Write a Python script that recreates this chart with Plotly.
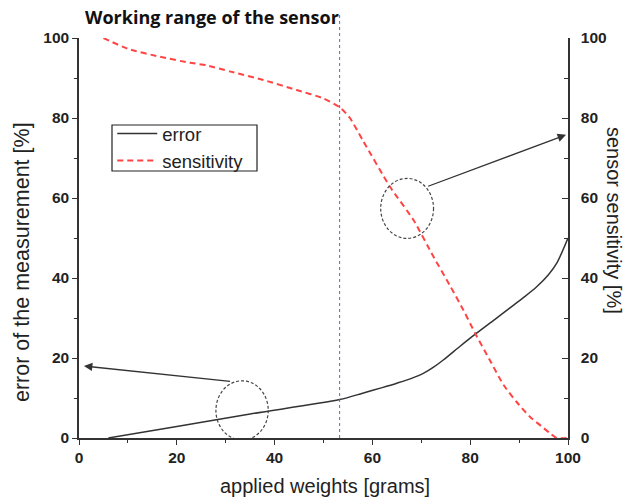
import plotly.graph_objects as go

# data
err_x = [6, 20, 35, 53.3, 58, 62, 65, 68, 70.5, 72.5, 74.5, 78, 81.3, 85, 88, 91, 93.6, 96, 97.7, 100]
err_y = [0, 2.9, 6, 9.6, 11.2, 12.6, 13.7, 14.9, 16.2, 17.7, 19.5, 23, 26.2, 29.6, 32.4, 35.2, 37.8, 40.8, 43.7, 50]

sens_x = [5, 10, 16.6, 22.7, 26, 31, 37.7, 44.5, 50, 53.4, 55.4, 58, 63.6, 68.4, 72.5, 76, 78.6, 81, 84, 86.8, 89.5, 92.2, 94.5, 96.3, 97.7, 100]
sens_y = [100, 97.3, 95.3, 93.8, 93.2, 91.6, 89.5, 87, 84.9, 82.6, 80, 74.5, 62.8, 54.5, 45.3, 37.8, 32, 26.2, 19.5, 13.3, 9, 5.3, 3, 1.2, 0, 0]

working_limit = 53.3
tick_vals = [0, 20, 40, 60, 80, 100]
tick_text = ["0", "20", "40", "60", "80", "100"]

fig = go.Figure()
fig.add_trace(go.Scatter(x=err_x, y=err_y, mode="lines", name="error",
                         line=dict(color="#333333", width=1.5, shape="spline", smoothing=0.8)))
fig.add_trace(go.Scatter(x=sens_x, y=sens_y, mode="lines", name="sensitivity", yaxis="y2",
                         line=dict(color="#ff4444", width=2, dash="6px,4px", shape="spline", smoothing=0.6)))

tickfont = dict(family="Liberation Sans, Arial", size=15.5, color="#222", weight="bold")
fig.update_layout(
    width=633, height=498,
    margin=dict(l=79, r=65, t=38, b=60),
    paper_bgcolor="white", plot_bgcolor="white",
    showlegend=True,
    legend=dict(x=0.068, y=(438 - 115) / 400, xanchor="left", yanchor="top",
                borderwidth=0, bgcolor="rgba(0,0,0,0)",
                font=dict(family="Liberation Sans, Arial", size=18.5, color="#222"),
                tracegroupgap=0, itemwidth=40),
    xaxis=dict(range=[0, 100], tickvals=tick_vals, ticktext=tick_text,
               showline=True, linecolor="#333", linewidth=1.5, mirror=False,
               ticks="outside", ticklen=5, tickcolor="#333", tickwidth=1.2,
               minor=dict(tickvals=[10, 30, 50, 70, 90], ticks="outside", ticklen=3, tickcolor="#333"),
               showgrid=False, zeroline=False, tickfont=tickfont),
    yaxis=dict(range=[0, 100], tickvals=tick_vals, ticktext=tick_text,
               showline=True, linecolor="#333", linewidth=1.5,
               ticks="outside", ticklen=5, tickcolor="#333", tickwidth=1.2,
               minor=dict(tickvals=[10, 30, 50, 70, 90], ticks="outside", ticklen=3, tickcolor="#333"),
               showgrid=False, zeroline=False, tickfont=tickfont),
    yaxis2=dict(range=[0, 100], tickvals=tick_vals, ticktext=tick_text, overlaying="y", side="right",
                showline=True, linecolor="#333", linewidth=1.5,
                ticks="inside", ticklen=6, tickcolor="#333", tickwidth=1.2, ticklabelstandoff=8,
                minor=dict(tickvals=[10, 30, 50, 70, 90], ticks="inside", ticklen=4, tickcolor="#333"),
                showgrid=False, zeroline=False, tickfont=tickfont),
)

# legend frame
fig.add_shape(type="rect", xref="paper", yref="paper",
              x0=(112 - 79) / 489, x1=(257 - 79) / 489, y0=(438 - 171) / 400, y1=(438 - 125) / 400,
              line=dict(color="#222", width=1.2), fillcolor="rgba(0,0,0,0)")

# working range vertical line
fig.add_shape(type="line", xref="x", yref="paper", x0=working_limit, x1=working_limit, y0=0, y1=1.058,
              line=dict(color="#4a72c0", width=1, dash="dot"))

# ellipses
fig.add_shape(type="circle", xref="x", yref="y", x0=61.7, x1=72.5, y0=49.9, y1=64.9,
              line=dict(color="#444", width=1.2, dash="3px,2px"))
fig.add_shape(type="circle", xref="x", yref="y", x0=28.0, x1=38.7, y0=-0.5, y1=14.3,
              line=dict(color="#444", width=1.2, dash="3px,2px"))

# arrows
fig.add_annotation(x=99.6, y=75.8, ax=71.1, ay=62.8, xref="x", yref="y", axref="x", ayref="y",
                   showarrow=True, arrowhead=2, arrowsize=1.3, arrowwidth=1.3, arrowcolor="#333", text="")
fig.add_annotation(x=1.0, y=18, ax=31.2, ay=14.1, xref="x", yref="y", axref="x", ayref="y",
                   showarrow=True, arrowhead=2, arrowsize=1.3, arrowwidth=1.3, arrowcolor="#333", text="")

# titles
fig.add_annotation(text="<b>Working range of the sensor</b>", xref="paper", yref="paper",
                   x=(83 - 79) / 489, y=(438 - 17) / 400, xanchor="left", yanchor="middle",
                   showarrow=False, font=dict(family="Open Sans, Lato, sans-serif", size=18, color="#111"))
fig.add_annotation(text="applied weights [grams]", xref="paper", yref="paper",
                   x=(325 - 79) / 489, y=(438 - 486) / 400, xanchor="center", yanchor="middle",
                   showarrow=False, font=dict(family="Liberation Sans, Arial", size=20, color="#222"))
fig.add_annotation(text="error of the measurement [%]", xref="paper", yref="paper",
                   x=(22 - 79) / 489, y=(438 - 262) / 400, xanchor="center", yanchor="middle", textangle=-90,
                   showarrow=False, font=dict(family="Liberation Sans, Arial", size=21.5, color="#222"))
fig.add_annotation(text="sensor sensitivity [%]", xref="paper", yref="paper",
                   x=(614 - 79) / 489, y=(438 - 220) / 400, xanchor="center", yanchor="middle", textangle=90,
                   showarrow=False, font=dict(family="Liberation Sans, Arial", size=20, color="#222"))

fig.write_html("out.html")
